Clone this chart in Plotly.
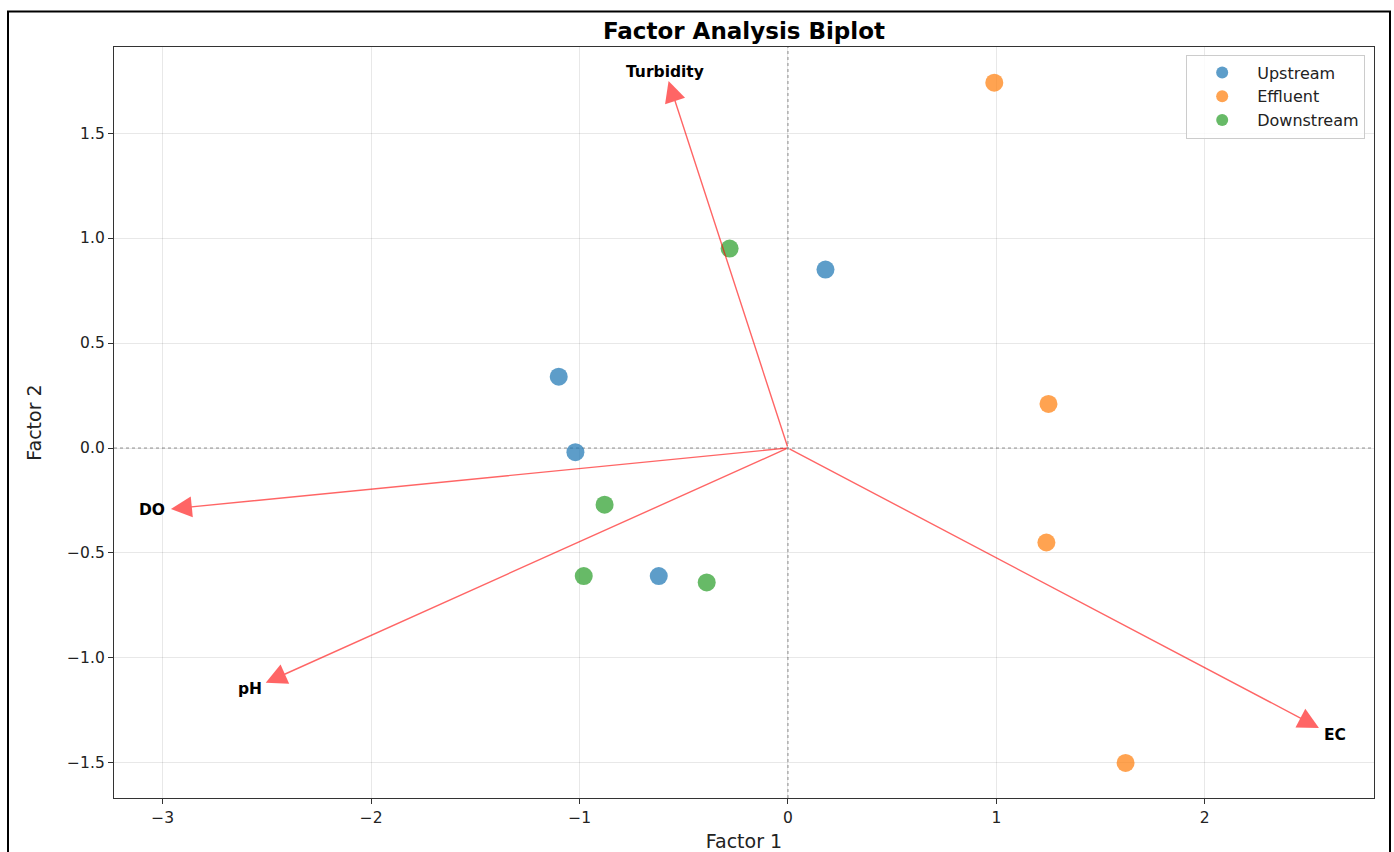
import plotly.graph_objects as go

# ---- data ----
groups = ["Upstream", "Effluent", "Downstream"]
colors = ["#1f77b4", "#ff7f0e", "#2ca02c"]
upstream_f1 = [0.18, -1.10, -1.02, -0.62]
upstream_f2 = [0.85, 0.34, -0.02, -0.61]
effluent_f1 = [0.99, 1.25, 1.24, 1.62]
effluent_f2 = [1.74, 0.21, -0.45, -1.50]
downstream_f1 = [-0.28, -0.88, -0.98, -0.39]
downstream_f2 = [0.95, -0.27, -0.61, -0.64]

variables = ["Turbidity", "DO", "pH", "EC"]
load_f1 = [-0.573, -2.961, -2.506, 2.548]
load_f2 = [1.748, -0.290, -1.118, -1.333]

xticks = [-3, -2, -1, 0, 1, 2]
yticks = [-1.5, -1.0, -0.5, 0.0, 0.5, 1.0, 1.5]

FONT = "DejaVu Sans"

fig = go.Figure()
series = [(upstream_f1, upstream_f2), (effluent_f1, effluent_f2), (downstream_f1, downstream_f2)]
for name, col, (xs, ys) in zip(groups, colors, series):
    fig.add_trace(go.Scatter(
        x=xs, y=ys, mode="markers", name=name,
        marker=dict(color=col, size=18, opacity=0.72, line=dict(width=0)),
    ))

# reference lines
fig.add_vline(x=0, line=dict(color="#888888", width=0.9, dash="dot"), layer="below")
fig.add_hline(y=0, line=dict(color="#888888", width=0.9, dash="dot"), layer="below")

arrow_col = "rgba(255,0,0,0.6)"
annotations = []
for v, lx, ly in zip(variables, load_f1, load_f2):
    annotations.append(dict(
        x=lx, y=ly, ax=0, ay=0, xref="x", yref="y", axref="x", ayref="y",
        text="", showarrow=True, arrowhead=2, arrowsize=3, arrowwidth=1.4,
        arrowcolor=arrow_col,
    ))
    annotations.append(dict(
        x=lx * 1.03, y=ly * 1.025, xref="x", yref="y", text="<b>%s</b>" % v,
        showarrow=False, font=dict(family=FONT, size=15.5, color="black"),
        xanchor="center", yanchor="middle",
    ))

axis_common = dict(
    showline=True, mirror=True, linecolor="#333333", linewidth=1.3,
    ticks="outside", ticklen=5, tickcolor="#333333", tickwidth=1,
    showgrid=True, gridcolor="rgba(0,0,0,0.09)", gridwidth=1,
    zeroline=False, tickfont=dict(family=FONT, size=15.5, color="#222222"),
    automargin=False,
)

fig.update_layout(
    width=1394, height=852,
    margin=dict(l=114, r=20, t=47, b=54),
    paper_bgcolor="white", plot_bgcolor="white",
    title=dict(text="<b>Factor Analysis Biplot</b>", x=0.5, xref="paper", xanchor="center",
               y=1 - 31 / 852, yanchor="middle",
               font=dict(family=FONT, size=23, color="black")),
    xaxis=dict(range=[-3.234, 2.812], tickvals=xticks,
               title=dict(text="Factor 1", font=dict(family=FONT, size=19, color="#222222"), standoff=10),
               **axis_common),
    yaxis=dict(range=[-1.667, 1.910], tickvals=yticks, tickformat=".1f",
               title=dict(text="Factor 2", font=dict(family=FONT, size=19, color="#222222"), standoff=20),
               **axis_common),
    legend=dict(x=0.993, y=0.99, xanchor="right", yanchor="top",
                bordercolor="#cccccc", borderwidth=1, bgcolor="rgba(255,255,255,0.8)",
                font=dict(family=FONT, size=16, color="#222222"), itemsizing="constant",
                itemwidth=60, tracegroupgap=0),
    annotations=annotations,
    font=dict(family=FONT),
    showlegend=True,
)

# outer figure border
fig.add_shape(type="rect", xref="paper", yref="paper",
              x0=(8 - 114) / 1260, x1=(1390 - 114) / 1260,
              y0=-0.2, y1=(798 - 11.5) / 751,
              line=dict(color="black", width=2), fillcolor="rgba(0,0,0,0)", layer="above")

fig.write_html("out.html")
